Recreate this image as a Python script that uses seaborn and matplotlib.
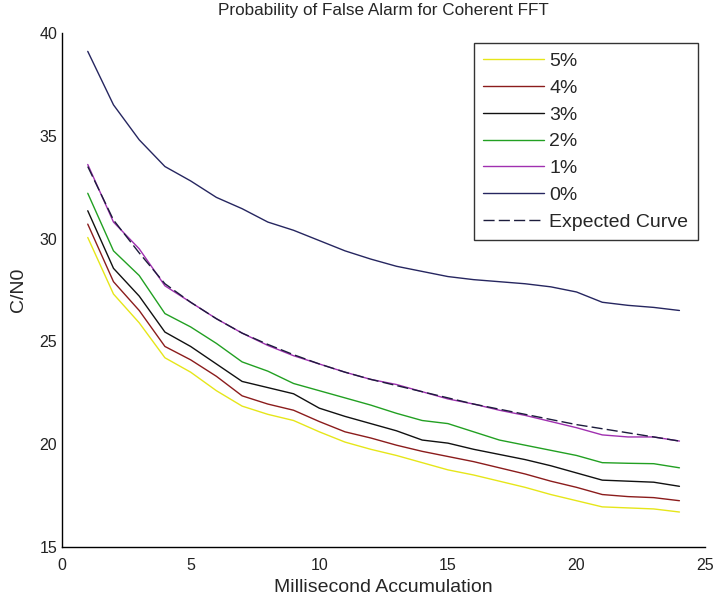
import numpy as np
import pandas as pd
import matplotlib
matplotlib.use("Agg")
import matplotlib.pyplot as plt
import seaborn as sns

# millisecond accumulation steps
ms = list(range(1, 25))

# C/N0 threshold curves per false alarm level
pfa_5 = [30.05, 27.3, 25.9, 24.2, 23.5, 22.6, 21.85, 21.45, 21.15, 20.6, 20.1, 19.75,
         19.45, 19.1, 18.75, 18.5, 18.2, 17.9, 17.55, 17.25, 16.95, 16.9, 16.85, 16.7]
pfa_4 = [30.7, 27.9, 26.5, 24.75, 24.1, 23.3, 22.35, 21.95, 21.65, 21.1, 20.6, 20.3,
         19.95, 19.65, 19.4, 19.15, 18.85, 18.55, 18.2, 17.9, 17.55, 17.45, 17.4, 17.25]
pfa_3 = [31.35, 28.55, 27.2, 25.45, 24.75, 23.9, 23.05, 22.75, 22.45, 21.75, 21.35, 21.0,
         20.65, 20.2, 20.05, 19.75, 19.5, 19.25, 18.95, 18.6, 18.25, 18.2, 18.15, 17.95]
pfa_2 = [32.2, 29.4, 28.2, 26.35, 25.7, 24.9, 24.0, 23.55, 22.95, 22.6, 22.25, 21.9,
         21.5, 21.15, 21.0, 20.6, 20.2, 19.95, 19.7, 19.45, 19.1, 19.07, 19.05, 18.85]
pfa_1 = [33.6, 30.8, 29.5, 27.7, 26.9, 26.1, 25.4, 24.8, 24.3, 23.9, 23.5, 23.15,
         22.9, 22.55, 22.2, 21.95, 21.65, 21.4, 21.1, 20.8, 20.45, 20.35, 20.35, 20.15]
pfa_0 = [39.1, 36.5, 34.8, 33.5, 32.8, 32.0, 31.45, 30.8, 30.4, 29.9, 29.4, 29.0,
         28.65, 28.4, 28.15, 28.0, 27.9, 27.8, 27.65, 27.4, 26.9, 26.75, 26.65, 26.5]
expected = [33.5, 30.9, 29.3, 27.8, 26.9, 26.1, 25.4, 24.85, 24.35, 23.9, 23.5, 23.15,
            22.85, 22.55, 22.25, 21.95, 21.7, 21.45, 21.2, 20.95, 20.75, 20.55, 20.35, 20.15]

levels = ["5%", "4%", "3%", "2%", "1%", "0%"]
series = [pfa_5, pfa_4, pfa_3, pfa_2, pfa_1, pfa_0]
colors = ["#e6e619", "#8b1c1c", "#111111", "#22a022", "#a030b0", "#262660"]

rows = []
for lvl, vals in zip(levels, series):
    for x, y in zip(ms, vals):
        rows.append({"ms": x, "cn0": y, "level": lvl})
df = pd.DataFrame(rows)
exp_df = pd.DataFrame({"ms": ms, "cn0": expected})

sns.set_theme(style="white")
plt.rcParams["font.family"] = ["Liberation Sans", "DejaVu Sans"]

fig = plt.figure(figsize=(7.13, 6.02), dpi=100)
ax = fig.add_axes([0.087, 0.0914, 0.902, 0.854])

sns.lineplot(data=df, x="ms", y="cn0", hue="level", hue_order=levels,
             palette=dict(zip(levels, colors)), linewidth=1.0, ax=ax)
sns.lineplot(data=exp_df, x="ms", y="cn0", color="#1c1c3c", linestyle=(0, (8, 3)),
             linewidth=1.0, label="Expected Curve", ax=ax)

ax.set_xlim(0, 25)
ax.set_ylim(15, 40)
ax.set_xticks([0, 5, 10, 15, 20, 25])
ax.set_yticks([15, 20, 25, 30, 35, 40])
ax.tick_params(direction="in", length=5, width=1, labelsize=11.5, color="black",
               labelcolor="#222222")
ax.tick_params(axis="x", pad=8)
for side in ["top", "right"]:
    ax.spines[side].set_visible(False)
for side in ["left", "bottom"]:
    ax.spines[side].set_color("black")
    ax.spines[side].set_linewidth(1.0)

ax.set_title("Probability of False Alarm for Coherent FFT", fontsize=12.3, pad=13)
ax.set_xlabel("Millisecond Accumulation", fontsize=14, labelpad=4)
ax.set_ylabel("C/N0", fontsize=14, labelpad=9)

leg = ax.legend(loc="upper right", fontsize=14, frameon=True, fancybox=False,
                handlelength=3.1, handletextpad=0.3, labelspacing=0.47,
                borderpad=0.5, borderaxespad=0,
                bbox_to_anchor=(0.989, 0.9805))
leg.get_frame().set_edgecolor("black")
leg.get_frame().set_linewidth(1.0)

fig.savefig("out.png", dpi=100)
